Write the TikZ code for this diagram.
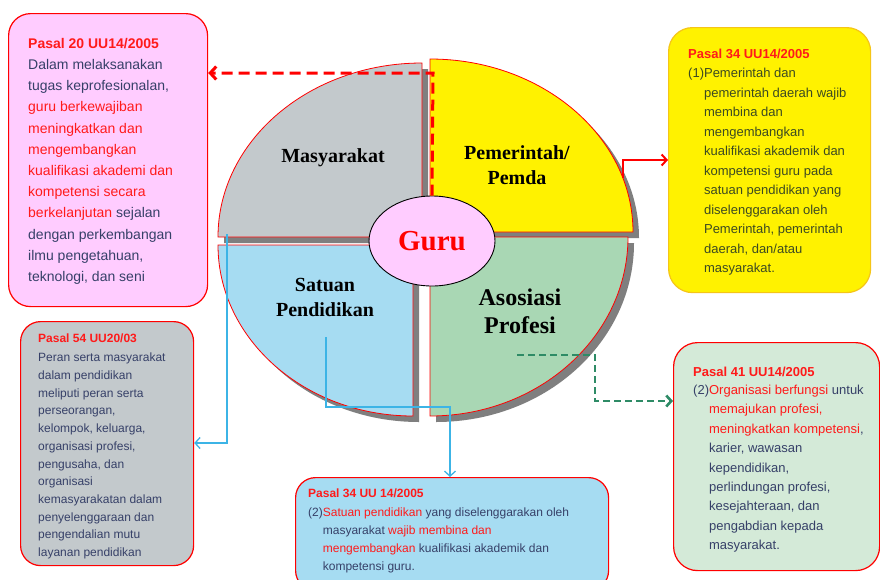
\documentclass[tikz,border=0pt]{standalone}
\usepackage{fontspec}
\setmainfont{Liberation Sans}
\newfontfamily\serifb{Liberation Serif}
\usetikzlibrary{arrows.meta,shapes.geometric}
\definecolor{tred}{HTML}{FF1A1A}
\definecolor{tbody}{HTML}{364068}
\definecolor{tolive}{HTML}{3C4A22}
\definecolor{pinkf}{HTML}{FFCCFF}
\definecolor{grayq}{HTML}{C3C9CC}
\definecolor{blueq}{HTML}{A6DCF2}
\definecolor{greenq}{HTML}{A9D7B4}
\definecolor{greenbox}{HTML}{D4EAD8}
\definecolor{shadowc}{HTML}{7F7F7F}
\definecolor{lineblue}{HTML}{3CB4E6}
\definecolor{dgreen}{HTML}{2E8B66}
\definecolor{yborder}{HTML}{F5C518}
\definecolor{guruf}{HTML}{FFCCFF}
\begin{document}
\begin{tikzpicture}[x=1pt,y=-1pt,
  box/.style={draw=red, line width=1.2pt, rounded corners=22pt, anchor=north west, inner sep=0pt},
  txt/.style={anchor=north west, inner sep=0pt, align=left, text=tbody},
  quad/.style={draw=red, line width=0.8pt},
  qlabel/.style={font=\serifb\bfseries\fontsize{20}{25}\selectfont, align=center, inner sep=0pt, text=black},
  bluel/.style={draw=lineblue, line width=1.3pt},
  tipb/.style={-{Straight Barb[length=5pt,width=11pt]}}
]
\useasboundingbox (0,0) rectangle (880,579);
\fill[white] (0,0) rectangle (880,579);

% shadows
\begin{scope}[shift={(6,6)}]
\fill[shadowc] (422,237) -- (422,63) arc[start angle=-90, end angle=-180, x radius=204, y radius=174] -- cycle;
\fill[shadowc] (430,232) -- (430,59) arc[start angle=-90, end angle=0, x radius=203, y radius=173] -- cycle;
\fill[shadowc] (413,245) -- (218,245) arc[start angle=180, end angle=90, x radius=195, y radius=171] -- cycle;
\fill[shadowc] (430,237) -- (628,237) arc[start angle=0, end angle=90, x radius=198, y radius=179] -- cycle;
\end{scope}

% quadrants
\path[quad, fill=grayq] (422,237) -- (422,63) arc[start angle=-90, end angle=-180, x radius=204, y radius=174] -- cycle;
\path[quad, fill=yellow] (430,232) -- (430,59) arc[start angle=-90, end angle=0, x radius=203, y radius=173] -- cycle;
\path[quad, fill=blueq] (413,245) -- (218,245) arc[start angle=180, end angle=90, x radius=195, y radius=171] -- cycle;
\path[quad, fill=greenq] (430,237) -- (628,237) arc[start angle=0, end angle=90, x radius=198, y radius=179] -- cycle;

\node[qlabel] (lm) at (333,158) {Masyarakat};
\node[qlabel] (lp) at (517,165) {Pemerintah/\\Pemda};
\node[qlabel] (ls) at (325,297) {Satuan\\Pendidikan};
\node[qlabel, font=\serifb\bfseries\fontsize{24}{28}\selectfont] (la) at (520,311) {Asosiasi\\Profesi};

\node[draw=black, line width=0.9pt, fill=guruf, ellipse, minimum width=126pt, minimum height=90pt, inner sep=0pt,
  text=red, font=\serifb\bfseries\fontsize{29}{32}\selectfont] (guru) at (432,241) {Guru};

% boxes
\node[box, fill=pinkf, minimum width=199pt, minimum height=293pt] (b1) at (8,13) {};
\node[box, draw=yborder, fill=yellow, minimum width=202pt, minimum height=265pt, rounded corners=24pt] (b2) at (668,27) {};
\node[box, fill=grayq, minimum width=173pt, minimum height=244pt, rounded corners=20pt] (b3) at (20,321) {};
\node[box, fill=blueq, minimum width=313pt, minimum height=113pt, rounded corners=20pt] (b4) at (295,477) {};
\node[box, fill=greenbox, minimum width=206pt, minimum height=228pt, rounded corners=24pt] (b5) at (673,342) {};

% connectors
\coordinate (c1) at (433,73);
\draw[red, line width=3pt, dash pattern=on 11pt off 6pt, -{Straight Barb[length=6pt,width=13pt]}]
  (guru.north) -- (c1) -- (b1.east |- c1);

\coordinate (pe) at (623,178);
\coordinate (pc) at (623,160);
\draw[red, line width=2pt, tipb] (pe) -- (pc) -- (b2.west |- pc);

\coordinate (ms) at (227,234);
\coordinate (mc) at (227,443);
\draw[bluel, tipb] (ms) -- (mc) -- (b3.east |- mc);

\coordinate (ss) at (326,337);
\coordinate (sc) at (326,407);
\coordinate (sd) at (450,407);
\draw[bluel, tipb] (ss) -- (sc) -- (sd) -- (sd |- b4.north);

\coordinate (as) at (517,355);
\coordinate (ac) at (595,355);
\coordinate (ad) at (595,401);
\draw[dgreen, line width=2.6pt, dash pattern=on 7pt off 4pt, -{Straight Barb[length=5pt,width=11pt]}] (as) -- (ac) -- (ad) -- (b5.west |- ad);

% texts
\node[txt, font=\fontsize{14}{21.2}\selectfont] (t1) at (28,38) {%
{\bfseries\color{tred}Pasal 20 UU14/2005}\\
Dalam melaksanakan\\
tugas keprofesionalan,\\
\textcolor{tred}{guru berkewajiban}\\
\textcolor{tred}{meningkatkan dan}\\
\textcolor{tred}{mengembangkan}\\
\textcolor{tred}{kualifikasi akademi dan}\\
\textcolor{tred}{kompetensi secara}\\
\textcolor{tred}{berkelanjutan} sejalan\\
dengan perkembangan\\
ilmu pengetahuan,\\
teknologi, dan seni};

\node[txt, text=tolive, font=\fontsize{13}{19.5}\selectfont] (t2) at (688,48.5) {%
{\bfseries\color{tred}Pasal 34 UU14/2005}\\
(1)Pemerintah dan\\
\hphantom{(1)}pemerintah daerah wajib\\
\hphantom{(1)}membina dan\\
\hphantom{(1)}mengembangkan\\
\hphantom{(1)}kualifikasi akademik dan\\
\hphantom{(1)}kompetensi guru pada\\
\hphantom{(1)}satuan pendidikan yang\\
\hphantom{(1)}diselenggarakan oleh\\
\hphantom{(1)}Pemerintah, pemerintah\\
\hphantom{(1)}daerah, dan/atau\\
\hphantom{(1)}masyarakat.};

\node[txt, font=\fontsize{12}{17.7}\selectfont] (t3) at (38,333.7) {%
{\bfseries\color{tred}Pasal 54 UU20/03}\\[1.5pt]
Peran serta masyarakat\\
dalam pendidikan\\
meliputi peran serta\\
perseorangan,\\
kelompok, keluarga,\\
organisasi profesi,\\
pengusaha, dan\\
organisasi\\
kemasyarakatan dalam\\
penyelenggaraan dan\\
pengendalian mutu\\
layanan pendidikan};

\node[txt, font=\fontsize{12}{18}\selectfont] (t4) at (308,488.2) {%
{\bfseries\color{tred}Pasal 34 UU 14/2005}\\[1.5pt]
(2)\textcolor{tred}{Satuan pendidikan} yang diselenggarakan oleh\\
\hphantom{(2)}masyarakat \textcolor{tred}{wajib membina dan}\\
\hphantom{(2)}\textcolor{tred}{mengembangkan} kualifikasi akademik dan\\
\hphantom{(2)}kompetensi guru.};

\node[txt, font=\fontsize{13}{19.4}\selectfont] (t5) at (693,366.9) {%
{\bfseries\color{tred}Pasal 41 UU14/2005}\\[-1.5pt]
(2)\textcolor{tred}{Organisasi berfungsi} untuk\\
\hphantom{(2)}\textcolor{tred}{memajukan profesi,}\\
\hphantom{(2)}\textcolor{tred}{meningkatkan kompetensi},\\
\hphantom{(2)}karier, wawasan\\
\hphantom{(2)}kependidikan,\\
\hphantom{(2)}perlindungan profesi,\\
\hphantom{(2)}kesejahteraan, dan\\
\hphantom{(2)}pengabdian kepada\\
\hphantom{(2)}masyarakat.};
\end{tikzpicture}
\end{document}
